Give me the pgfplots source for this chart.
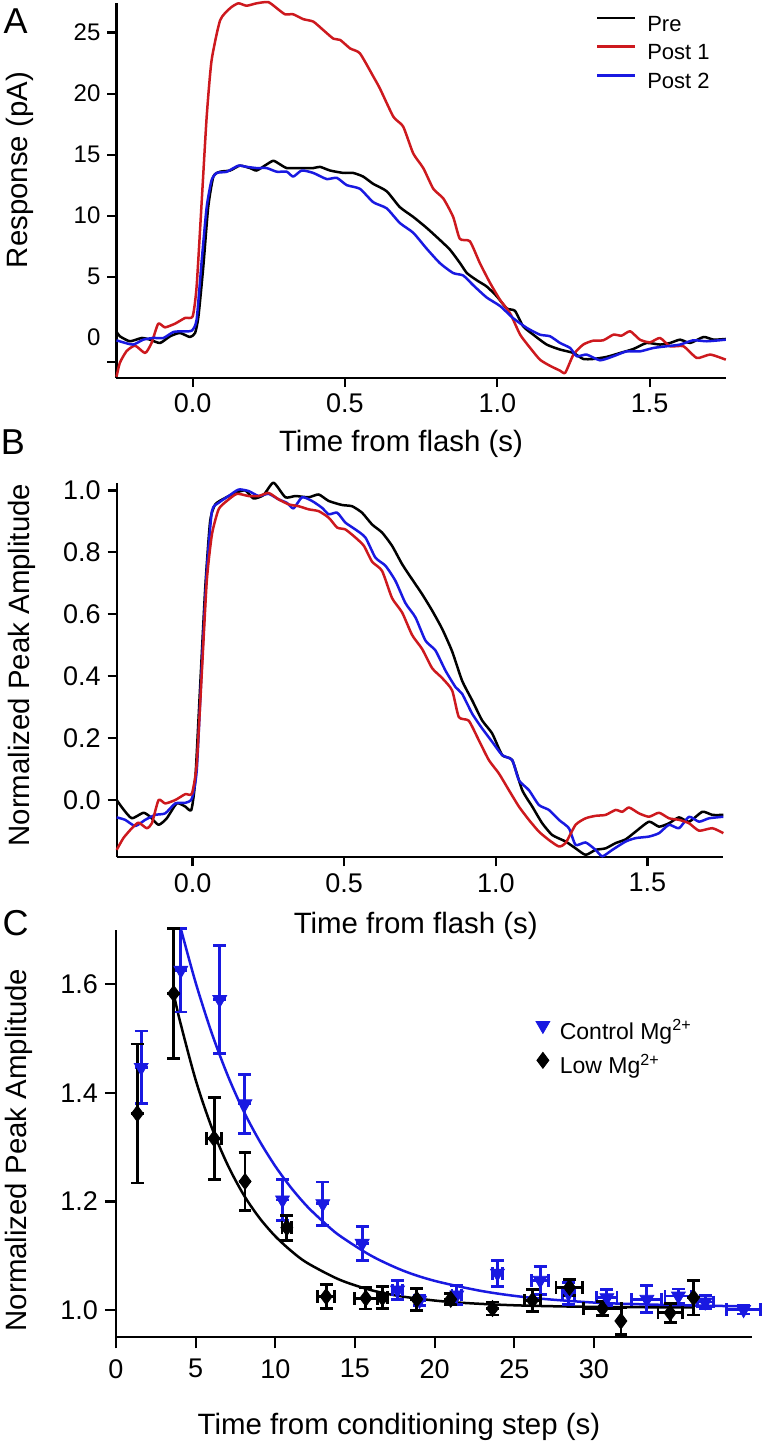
\documentclass[border=0pt]{standalone}
\usepackage{fontspec}
\setmainfont{Liberation Sans}
\usepackage{pgfplots}
\usepackage{pgfplotstable}
\pgfplotsset{compat=1.18}

\definecolor{postone}{RGB}{205,25,30}
\definecolor{posttwo}{RGB}{25,25,225}

\pgfplotsset{
  panel/.style={
    scale only axis,
    axis lines=left,
    axis line style={-, line width=1.1pt},
    tick align=outside,
    major tick length=4.5pt,
    tick style={line width=1.1pt, black},
    /pgf/number format/assume math mode=true,
    tick label style={font=\fontsize{13.5}{15}\selectfont},
    label style={font=\fontsize{14.7}{17}\selectfont},
    clip=false,
  },
  trace/.style={line width=1.25pt, line join=round, smooth, tension=0.35},
  ebars/.style={
    error bars/x dir=both, error bars/x explicit,
    error bars/y dir=both, error bars/y explicit,
    error bars/error bar style={line width=1.4pt, #1},
    error bars/error mark options={rotate=90, mark size=3.2pt, line width=1.4pt, #1},
  },
}

% panel C: time (s), amplitude, x error, y error
\pgfplotstableread{
x      y      ex    ey
1.58   1.447  0     0.067
4.07   1.626  0     0.077
6.51   1.572  0     0.100
8.09   1.380  0     0.054
10.45  1.203  0     0.038
12.98  1.196  0     0.040
15.45  1.123  0     0.031
17.67  1.037  0.3   0.018
19.05  1.018  0     0.010
21.39  1.028  0.3   0.018
23.94  1.068  0.3   0.024
26.62  1.055  0.55  0.026
28.40  1.031  0.4   0.020
30.81  1.023  0.63  0.015
33.32  1.020  0.94  0.025
35.30  1.026  0.84  0.013
36.98  1.015  0.5   0.012
39.39  1.001  1.05  0.008
}\controlmg

\pgfplotstableread{
x      y      ex    ey
1.34   1.362  0     0.128
3.62   1.583  0     0.120
6.16   1.316  0.47  0.075
8.10   1.237  0     0.053
10.72  1.152  0.3   0.023
13.19  1.025  0.52  0.022
15.68  1.022  0.71  0.020
16.72  1.023  0.3   0.020
18.88  1.020  0     0.020
21.01  1.020  0     0.010
23.63  1.003  0     0.012
26.14  1.018  0.49  0.020
28.46  1.042  0.84  0.015
30.53  1.003  1.2   0.013
31.69  0.980  0     0.025
34.78  0.995  0.76  0.018
36.25  1.023  0     0.032
}\lowmg

\begin{document}
\begin{tikzpicture}
\useasboundingbox (0,0) rectangle (381pt,-722pt);

\node[font=\fontsize{18}{20}\selectfont] at (7.85pt,-10.5pt) {A};
\node[font=\fontsize{18}{20}\selectfont] at (6.5pt,-221.25pt) {B};
\node[font=\fontsize{18}{20}\selectfont] at (7.85pt,-461.5pt) {C};

% ---------- A ----------
\begin{axis}[panel,
  at={(58.25pt,-189pt)}, anchor=south west,
  width=304.65pt, height=187.35pt,
  xmin=-0.25, xmax=1.75, ymin=-3.3, ymax=27.4,
  xtick={0,0.5,1,1.5},
  xticklabel style={/pgf/number format/.cd, fixed, fixed zerofill, precision=1},
  ytick={-2,5,10,15,20,25}, yticklabels={,5,10,15,20,25},
  yticklabel style={font=\fontsize{12}{13}\selectfont},
  extra y ticks={0}, extra y tick labels={0},
  extra y tick style={major tick length=0pt, yticklabel style={xshift=-4.5pt}},
  xlabel={Time from flash (s)},
  ylabel={Response (pA)},
  xlabel style={at={(axis description cs:0.467,-0.176)}, anchor=center},
  ylabel style={at={(axis description cs:-0.159,0.555)}, anchor=center},
  legend style={at={(rel axis cs:0.786,0.975)}, anchor=north west,
    draw=none, fill=none, inner sep=0pt,
    font=\fontsize{11}{12}\selectfont,
    nodes={inner sep=1pt, text height=8pt, text depth=2.5pt},
    row sep=1.85pt, column sep=4.5pt},
  legend cell align=left,
  legend image code/.code={\draw[#1] (0pt,3.8pt) -- (19pt,3.8pt);},
]
\addplot[trace, black] coordinates {
(-0.25,0.5) (-0.239,0.12) (-0.206,-0.29) (-0.167,-0.02) (-0.14,-0.16) (-0.107,-0.43)
(-0.074,0.12) (-0.042,0.39) (-0.009,0.06) (0.008,0.39) (0.019,1.75) (0.035,5.84)
(0.051,10.7) (0.068,13.2) (0.09,13.6) (0.123,13.7) (0.155,14.1) (0.188,13.9)
(0.21,13.7) (0.243,14.2) (0.265,14.5) (0.287,14.2) (0.309,13.9) (0.352,13.9)
(0.396,13.9) (0.418,14.0) (0.451,13.7) (0.495,13.5) (0.527,13.5) (0.56,13.2)
(0.593,12.6) (0.637,12.0) (0.68,10.7) (0.724,9.9) (0.768,9.0) (0.812,8.0)
(0.845,7.2) (0.878,6.1) (0.9,5.3) (0.933,4.7) (0.965,4.2) (0.998,3.4)
(1.031,2.4) (1.058,2.2) (1.085,0.93) (1.118,0.25) (1.162,-0.56) (1.206,-0.97)
(1.25,-1.25) (1.282,-1.74) (1.315,-1.74) (1.359,-1.57) (1.403,-1.25) (1.447,-0.92)
(1.49,-0.43) (1.534,-0.56) (1.567,-0.43) (1.6,-0.16) (1.633,-0.43) (1.677,0.06)
(1.71,-0.16) (1.75,-0.1)
};
\addlegendentry{Pre}
\addplot[trace, postone] coordinates {
(-0.25,-3.2) (-0.239,-2.06) (-0.217,-1.1) (-0.189,-0.65) (-0.156,-1.25) (-0.135,-0.43)
(-0.113,1.15) (-0.091,0.85) (-0.058,1.15) (-0.025,1.62) (0.0,1.75) (0.013,4.2)
(0.03,11.3) (0.046,18.1) (0.062,22.7) (0.09,26.0) (0.123,27.0) (0.15,27.4)
(0.177,27.2) (0.21,27.4) (0.248,27.5) (0.276,27.0) (0.303,26.5) (0.33,26.5)
(0.363,26.1) (0.396,25.9) (0.429,25.2) (0.462,24.5) (0.484,24.4) (0.517,23.7)
(0.549,23.3) (0.593,21.4) (0.615,20.4) (0.659,18.1) (0.691,17.3) (0.724,15.1)
(0.757,13.9) (0.79,12.2) (0.823,11.4) (0.855,9.9) (0.877,8.1) (0.91,7.9)
(0.943,6.1) (0.976,4.5) (1.009,3.1) (1.042,2.0) (1.075,0.25) (1.108,-0.84)
(1.14,-1.8) (1.173,-2.3) (1.206,-2.7) (1.223,-2.87) (1.25,-1.38) (1.282,-0.56)
(1.315,-0.24) (1.348,-0.21) (1.381,0.25) (1.408,0.17) (1.436,0.53) (1.468,-0.16)
(1.501,-0.38) (1.534,-0.02) (1.567,-0.7) (1.611,-0.7) (1.655,-1.66) (1.699,-1.38)
(1.75,-1.8)
};
\addlegendentry{Post 1}
\addplot[trace, posttwo] coordinates {
(-0.25,-0.21) (-0.228,-0.38) (-0.195,-0.56) (-0.162,-0.16) (-0.129,-0.02) (-0.096,-0.02)
(-0.063,0.47) (-0.031,0.53) (-0.003,0.58) (0.013,1.48) (0.03,6.4) (0.046,10.7)
(0.062,12.9) (0.079,13.5) (0.112,13.6) (0.15,14.1) (0.177,14.0) (0.21,13.9)
(0.243,13.9) (0.276,13.6) (0.309,13.6) (0.33,13.2) (0.358,13.7) (0.396,13.5)
(0.44,13.0) (0.473,13.1) (0.506,12.5) (0.549,12.2) (0.593,11.1) (0.637,10.6)
(0.68,9.4) (0.724,8.6) (0.768,7.3) (0.812,6.1) (0.855,5.3) (0.888,5.1)
(0.921,4.3) (0.965,3.3) (1.009,2.6) (1.052,1.6) (1.097,0.8) (1.14,0.25)
(1.173,0.12) (1.206,-0.43) (1.239,-0.84) (1.261,-1.52) (1.293,-1.38) (1.337,-1.85)
(1.381,-1.52) (1.424,-1.12) (1.468,-1.12) (1.512,-0.84) (1.556,-0.7) (1.6,-0.56)
(1.643,-0.21) (1.688,-0.29) (1.75,-0.16)
};
\addlegendentry{Post 2}
\end{axis}

% ---------- B ----------
\begin{axis}[panel,
  at={(58.35pt,-428.65pt)}, anchor=south west,
  width=303.3pt, height=187.3pt,
  xmin=-0.25, xmax=1.75, ymin=-0.185, ymax=1.025,
  xtick={0,0.5,1,1.5},
  ytick={0,0.2,0.4,0.6,0.8,1.0},
  xticklabel style={/pgf/number format/.cd, fixed, fixed zerofill, precision=1},
  yticklabel style={/pgf/number format/.cd, fixed, fixed zerofill, precision=1},
  xlabel={Time from flash (s)},
  ylabel={Normalized Peak Amplitude},
  xlabel style={at={(axis description cs:0.493,-0.183)}, anchor=center},
  ylabel style={at={(axis description cs:-0.156,0.513)}, anchor=center},
]
\addplot[trace, black] coordinates {
(-0.25,0.0) (-0.228,-0.03) (-0.2,-0.059) (-0.162,-0.041) (-0.14,-0.054) (-0.112,-0.08)
(-0.085,-0.059) (-0.052,-0.011) (-0.024,-0.021) (-0.004,-0.032) (0.009,0.064) (0.025,0.365)
(0.042,0.687) (0.058,0.90) (0.075,0.955) (0.108,0.976) (0.141,0.992) (0.174,1.0)
(0.201,0.974) (0.234,0.985) (0.267,1.025) (0.306,0.978) (0.339,0.982) (0.383,0.978)
(0.416,0.987) (0.449,0.966) (0.493,0.953) (0.526,0.949) (0.559,0.928) (0.592,0.89)
(0.625,0.864) (0.658,0.821) (0.691,0.762) (0.724,0.713) (0.757,0.665) (0.79,0.612)
(0.823,0.553) (0.856,0.48) (0.889,0.385) (0.922,0.322) (0.955,0.257) (0.988,0.215)
(1.021,0.145) (1.054,0.129) (1.087,0.032) (1.12,-0.021) (1.153,-0.075) (1.186,-0.113)
(1.23,-0.134) (1.263,-0.156) (1.296,-0.177) (1.329,-0.161) (1.362,-0.156) (1.395,-0.139)
(1.428,-0.127) (1.461,-0.102) (1.505,-0.07) (1.538,-0.086) (1.571,-0.075) (1.604,-0.056)
(1.637,-0.07) (1.681,-0.038) (1.714,-0.048) (1.75,-0.048)
};
\addplot[trace, posttwo] coordinates {
(-0.25,-0.056) (-0.222,-0.064) (-0.189,-0.084) (-0.156,-0.064) (-0.123,-0.048) (-0.09,-0.043)
(-0.057,-0.011) (-0.024,-0.009) (-0.002,0.005) (0.014,0.097) (0.031,0.44) (0.047,0.74)
(0.064,0.933) (0.086,0.96) (0.119,0.982) (0.152,1.003) (0.185,0.998) (0.218,0.982)
(0.251,0.989) (0.284,0.971) (0.311,0.96) (0.333,0.942) (0.361,0.978) (0.394,0.966)
(0.427,0.944) (0.449,0.923) (0.477,0.928) (0.504,0.896) (0.537,0.874) (0.57,0.848)
(0.603,0.783) (0.636,0.757) (0.669,0.708) (0.702,0.636) (0.735,0.59) (0.768,0.515)
(0.801,0.483) (0.834,0.418) (0.867,0.365) (0.889,0.343) (0.922,0.279) (0.955,0.231)
(0.988,0.188) (1.021,0.145) (1.054,0.129) (1.076,0.064) (1.109,0.032) (1.142,-0.016)
(1.175,-0.032) (1.208,-0.064) (1.241,-0.091) (1.263,-0.145) (1.296,-0.137) (1.329,-0.161)
(1.351,-0.182) (1.384,-0.161) (1.428,-0.134) (1.461,-0.123) (1.505,-0.118) (1.538,-0.107)
(1.571,-0.08) (1.604,-0.091) (1.637,-0.054) (1.67,-0.07) (1.703,-0.059) (1.75,-0.054)
};
\addplot[trace, postone] coordinates {
(-0.25,-0.161) (-0.228,-0.123) (-0.2,-0.091) (-0.178,-0.073) (-0.151,-0.091) (-0.134,-0.075)
(-0.112,0.0) (-0.09,-0.011) (-0.057,0.0) (-0.024,0.019) (-0.002,0.021) (0.014,0.118)
(0.031,0.418) (0.047,0.708) (0.064,0.858) (0.086,0.939) (0.113,0.966) (0.146,0.989)
(0.185,0.982) (0.218,0.982) (0.251,0.992) (0.284,0.971) (0.317,0.955) (0.35,0.949)
(0.383,0.939) (0.416,0.933) (0.449,0.912) (0.477,0.88) (0.504,0.874) (0.537,0.848)
(0.565,0.821) (0.592,0.77) (0.625,0.74) (0.658,0.652) (0.691,0.606) (0.724,0.533)
(0.757,0.488) (0.79,0.426) (0.823,0.394) (0.856,0.354) (0.878,0.268) (0.911,0.256)
(0.944,0.193) (0.977,0.129) (1.01,0.086) (1.043,0.032) (1.076,-0.021) (1.109,-0.064)
(1.142,-0.102) (1.175,-0.129) (1.208,-0.15) (1.23,-0.139) (1.263,-0.08) (1.296,-0.059)
(1.329,-0.051) (1.362,-0.048) (1.395,-0.032) (1.417,-0.038) (1.439,-0.024) (1.472,-0.043)
(1.505,-0.054) (1.538,-0.041) (1.571,-0.059) (1.604,-0.064) (1.637,-0.075) (1.67,-0.099)
(1.714,-0.091) (1.75,-0.107)
};
\end{axis}

% ---------- C ----------
\begin{axis}[panel,
  at={(58pt,-668.65pt)}, anchor=south west,
  width=317.85pt, height=203.65pt,
  xmin=0, xmax=39.9, ymin=0.95, ymax=1.70,
  xtick={0,5,10,15,20,25,30},
  major tick length=5.5pt,
  ytick={1.0,1.2,1.4,1.6},
  yticklabel style={/pgf/number format/.cd, fixed, fixed zerofill, precision=1},
  xticklabel style={yshift=-2pt},
  xlabel={Time from conditioning step (s)},
  ylabel={Normalized Peak Amplitude},
  xlabel style={at={(axis description cs:0.445,-0.22)}, anchor=center},
  ylabel style={at={(axis description cs:-0.153,0.46)}, anchor=center},
  legend style={at={(rel axis cs:0.66,0.78)}, anchor=north west,
    draw=none, fill=none, inner sep=0pt,
    font=\fontsize{11.5}{13}\selectfont,
    nodes={inner sep=1pt, text height=8.5pt, text depth=2.5pt},
    row sep=3.15pt, column sep=4pt},
  legend cell align=left,
  legend image code/.code={\draw[#1] plot coordinates {(3.5pt,3.8pt)};},
]
\addplot[black, line width=1.25pt, smooth, forget plot] coordinates {
(3.62,1.583) (4,1.534) (5,1.424) (6,1.337) (7,1.268) (8,1.213) (9,1.170) (10,1.136)
(11,1.109) (12,1.087) (14,1.0565) (16,1.037) (18,1.025) (21,1.015) (25,1.009) (30,1.006)
(36.3,1.005)
};
\addplot[posttwo, line width=1.25pt, smooth, forget plot] coordinates {
(4.1,1.699) (5,1.603) (6,1.511) (7,1.433) (8,1.367) (9,1.312) (10,1.265) (11,1.225)
(12,1.191) (13,1.163) (14,1.138) (16,1.1005) (18,1.073) (20,1.054) (23,1.035) (26,1.023)
(30,1.014) (34,1.010) (39.4,1.007)
};
\addplot[only marks, posttwo, mark=triangle*, mark size=4pt,
  mark options={rotate=180, fill=posttwo, draw=posttwo}, ebars=posttwo]
  table[x=x, y=y, x error=ex, y error=ey] {\controlmg};
\addlegendentry{Control Mg\textsuperscript{2+}}
\addplot[only marks, black, mark=diamond*, mark size=4pt,
  mark options={fill=black}, ebars=black]
  table[x=x, y=y, x error=ex, y error=ey] {\lowmg};
\addlegendentry{Low Mg\textsuperscript{2+}}
\end{axis}
\end{tikzpicture}
\end{document}
